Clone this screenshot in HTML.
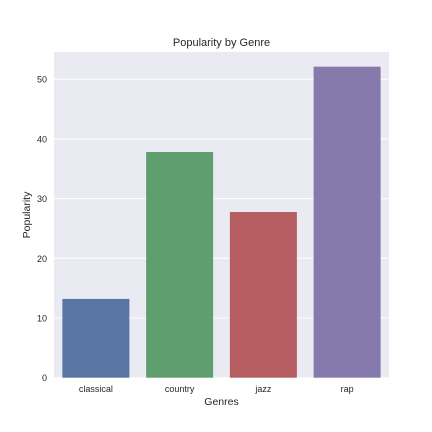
<!DOCTYPE html>
<html><head><meta charset="utf-8"><style>
html,body{margin:0;padding:0;background:#fff;width:432px;height:432px;overflow:hidden}
svg{font-family:"Liberation Sans",Arial,sans-serif}
</style></head><body>
<svg id="chart" width="432" height="432">
<rect x="54" y="52" width="335" height="325.7" fill="#eaeaf2"/>
<g id="grid"></g><g id="bars"></g><g id="yticks"></g><g id="xticks"></g>
<text x="221.5" y="46" text-anchor="middle" font-size="11" fill="#262626">Popularity by Genre</text>
<text x="221.5" y="405" text-anchor="middle" font-size="10.5" fill="#262626">Genres</text>
<text transform="translate(30,215) rotate(-90)" text-anchor="middle" font-size="10.5" fill="#262626">Popularity</text>
</svg>
<script>
const categories=["classical","country","jazz","rap"];
const values=[13.2,37.8,27.75,52.1];
const colors=["#5975a4","#5f9e6e","#b55d60","#857aab"];
const yTicks=[0,10,20,30,40,50];
const NS="http://www.w3.org/2000/svg";
const L=54,R=389,B=377.7,pxPer=5.97;
const y=v=>B-v*pxPer;
const band=(R-L)/categories.length;
const x=i=>L+band*i;
function mk(t,a,p){const e=document.createElementNS(NS,t);for(const k in a)e.setAttribute(k,a[k]);p.appendChild(e);return e;}
const g=document.getElementById('grid'),bg=document.getElementById('bars'),yt=document.getElementById('yticks'),xt=document.getElementById('xticks');
yTicks.forEach(v=>{
 const l=mk('line',{x1:L,x2:R,y1:y(v),y2:y(v),stroke:'#fff','stroke-width':1},g);
 
 
 const t=mk('text',{x:L-7,y:y(v)+3.5,'text-anchor':'end','font-size':9,fill:'#262626'},yt);
 t.textContent=v;
 
 
});
categories.forEach((c,i)=>{
 const w=band*0.8;
 const r=mk('rect',{x:x(i)+band*0.1,y:y(values[i]),width:w,height:B-y(values[i]),fill:colors[i]},bg);
 
 
 const t=mk('text',{x:x(i)+band/2,y:392,'text-anchor':'middle','font-size':9,fill:'#262626'},xt);
 t.textContent=c;
 
 
});
</script>
</body></html>
